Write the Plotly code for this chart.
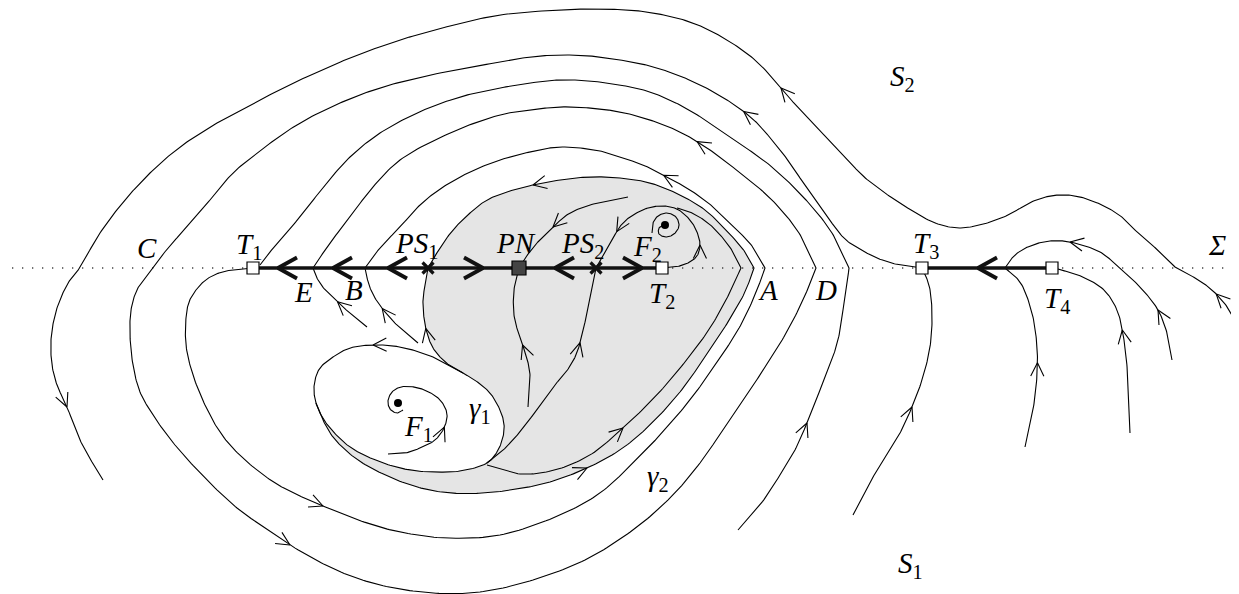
import numpy as np
import plotly.graph_objects as go

# ---------------- data (image pixel coordinates, y downward) ----------------
SIGMA_Y = 268

OUTER_X = [1239,1228,1212,1195,1176,1160,1140,1123,1106,1080,1058,1036,1006,980,958,935,906,885,863,845,822,800,781,755,722,690,647,600,560,500,450,400,350,300,260,217,180,150,125,100,80,70,62,55,51,52,57,67,80,92,103]
OUTER_Y = [327,308,290,278,268,252,235,218,207,197,195,200,216,225,228,223,207,193,176,157,133,110,88,60,37,22,12,9,10,15,26,40,58,80,100,123,147,173,200,233,268,280,295,315,340,365,385,407,440,462,480]

C_X = [922,900,882,865,846,826,806,790,772,756,739,710,680,650,620,590,560,530,500,440,383,340,300,265,233,210,187,168,153,143,136,131,130,133,140,155,175,205,237,262,290,336,380,433,480,533,585,633,670,700,734,760,785,803,816,799,772,739,710,680,650,620,590,560,530,500,450,400,372,350,330,313]
C_Y = [268,265,260,252,240,215,187,163,140,122,108,90,76,66,60,56,55,57,62,73,87,103,123,147,173,200,227,248,268,280,292,310,335,365,392,418,445,478,508,526,545,570,585,593,592,580,560,530,498,463,413,375,335,300,268,233,200,172,150,132,120,112,108,107,110,115,133,160,188,217,243,268]

T1C_X = [738,760,780,795,807,820,830,838,843,847,849,832,806,772,739,710,680,650,620,590,560,530,500,460,417,380,350,325,300,278,260]
T1C_Y = [530,505,475,450,423,390,365,340,310,285,268,233,200,167,143,123,105,92,85,81,80,83,88,97,113,133,157,185,217,242,265]

G2_X = [253,240,222,207,196,189,186,186,192,205,222,245,275,300,323,367,400,446,500,560,600,633,660,690,715,738,755,765,752,733,712,690,665,643,620,600,560,530,500,470,443,420,400,380,365]
G2_Y = [268,269,272,279,290,302,318,345,372,405,435,460,483,496,506,523,532,538,535,515,493,463,435,400,365,330,295,268,246,226,206,190,176,165,157,151,147,152,160,172,187,205,227,248,268]

GRAYTOP_X = [316,322,333,355,383,417,450,483,517,550,587,620,650,680,705,728,745,754,745,728,705,680,650,620,590,560,533,510,487,470,453,440,428]
GRAYTOP_Y = [403,418,437,458,474,487,493,493,489,482,468,450,425,392,357,322,292,268,252,232,210,195,183,178,177,180,185,191,200,213,230,248,268]

INNER_X = [487,520,555,590,623,655,685,710,727,741,733,722,708,692,677]
INNER_Y = [465,474,470,455,428,397,362,328,298,268,252,237,223,213,208]

F2LOOP_X = [662,675,688,697,700,697,690,677,663,648,633,622,613,605,596]
F2LOOP_Y = [268,267,263,256,245,232,220,209,206,208,215,224,238,252,268]

GAMMA1_X = [463,433,400,373,350,333,320,315,314,316,321,330,350,383,410,433,460,487,497,503,504,500,490,476,463]
GAMMA1_Y = [373,357,347,345,348,357,368,380,392,403,415,428,447,463,470,472,471,463,452,437,424,410,393,381,373]

PS1D_X = [463,452,443,433,427,424,423,425,428]
PS1D_Y = [373,367,360,348,333,318,300,285,268]
PS2D_X = [487,500,513,527,540,553,566,576,582,587,592,596]
PS2D_Y = [463,453,440,423,405,387,372,355,335,313,290,268]
PNT_X = [628,597,570,553,537,526,519]
PNT_Y = [197,203,213,227,243,257,268]
PND_X = [528,530,526,519,514,514,519]
PND_Y = [407,375,355,335,315,290,268]
ELOW_X = [367,353,340,327,318,313]
ELOW_Y = [327,316,304,292,280,268]
BLOW_X = [418,400,385,375,369,365]
BLOW_Y = [343,328,312,298,285,268]
F1S_X = [388,405,420,435,444,447,441,429,414,401,392,388,390,397,403]
F1S_Y = [454,453,448,440,428,414,401,392,387,387,392,401,409,413,410]
F2S_X = [652,653,658,667,676,679,674,666,659,659,664]
F2S_Y = [233,223,216,213,217,226,234,237,234,228,225]
T3T_X = [853,870,885,900,912,922,930,932,929,922]
T3T_Y = [515,482,458,433,407,380,347,313,285,268]
T4A_X = [1172,1167,1158,1141,1120,1100,1070,1050,1030,1015,1005]
T4A_Y = [360,333,310,288,268,252,242,241,246,255,268]
T4B_X = [1025,1033,1037,1037,1032,1020,1005]
T4B_Y = [447,410,375,347,313,282,268]
T4C_X = [1130,1128,1124,1117,1104,1083,1058]
T4C_Y = [433,380,340,310,290,277,269]

SLIDING_SEGMENTS = [(253, 662), (922, 1052)]
SLIDE_ARROW_X = [278, 333, 388, 483, 555, 642, 978]
SLIDE_ARROW_DIR = [-1, -1, -1, 1, -1, 1, -1]

TANGENCY_NAMES = ["T1", "T2", "T3", "T4"]
TANGENCY_X = [253, 662, 922, 1052]
PSEUDO_SADDLE_X = [428, 596]
PSEUDO_NODE_X = [519]
FOCUS_X = [398, 665]
FOCUS_Y = [403, 225]

LABEL_TEXT = ["<i>T</i><sub>1</sub>", "<i>C</i>", "<i>E</i>", "<i>B</i>", "<i>PS</i><sub>1</sub>",
              "<i>PN</i>", "<i>PS</i><sub>2</sub>", "<i>F</i><sub>2</sub>", "<i>T</i><sub>2</sub>",
              "<i>A</i>", "<i>D</i>", "<i>T</i><sub>3</sub>", "<i>T</i><sub>4</sub>", "<i>Σ</i>",
              "<i>S</i><sub>2</sub>", "<i>S</i><sub>1</sub>", "<i>F</i><sub>1</sub>",
              "<i>γ</i><sub>1</sub>", "<i>γ</i><sub>2</sub>"]
LABEL_X = [249, 147, 303, 354, 416, 516, 582, 647, 662, 768, 826, 926, 1057, 1217, 902, 910, 418, 480, 658]
LABEL_Y = [246, 248, 292, 290, 245, 243, 245, 248, 295, 290, 290, 245, 300, 245, 78, 565, 428, 410, 478]

# page offset of the plot div (browser default body margin)
PAGE_OFFSET = 8

# ---------------- geometry helpers ----------------
def cr_seg(p0, p1, p2, p3, n, alpha=0.5):
    def tj(ti, a, b):
        return ti + max(np.linalg.norm(b - a), 1e-6) ** alpha
    t0 = 0.0
    t1 = tj(t0, p0, p1)
    t2 = tj(t1, p1, p2)
    t3 = tj(t2, p2, p3)
    t = np.linspace(t1, t2, n, endpoint=False)[:, None]
    A1 = (t1 - t) / (t1 - t0) * p0 + (t - t0) / (t1 - t0) * p1
    A2 = (t2 - t) / (t2 - t1) * p1 + (t - t1) / (t2 - t1) * p2
    A3 = (t3 - t) / (t3 - t2) * p2 + (t - t2) / (t3 - t2) * p3
    B1 = (t2 - t) / (t2 - t0) * A1 + (t - t0) / (t2 - t0) * A2
    B2 = (t3 - t) / (t3 - t1) * A2 + (t - t1) / (t3 - t1) * A3
    return (t2 - t) / (t2 - t1) * B1 + (t - t1) / (t2 - t1) * B2


def smooth(xs, ys, kink_on_sigma=True, n=16):
    pts = np.column_stack([xs, ys]).astype(float)
    N = len(pts)
    corners = [0, N - 1]
    if kink_on_sigma:
        corners += [i for i in range(1, N - 1) if ys[i] == SIGMA_Y]
    corners = sorted(set(corners))
    out = []
    for a, b in zip(corners[:-1], corners[1:]):
        seg = pts[a:b + 1]
        if len(seg) == 2:
            P = np.vstack([2 * seg[0] - seg[1], seg, 2 * seg[1] - seg[0]])
        else:
            P = np.vstack([2 * seg[0] - seg[1], seg, 2 * seg[-1] - seg[-2]])
        for i in range(len(seg) - 1):
            out.append(cr_seg(P[i], P[i + 1], P[i + 2], P[i + 3], n))
    out.append(pts[-1:])
    d = np.vstack(out)
    return d[:, 0], d[:, 1]


def nearest(dx, dy, px, py):
    return int(np.argmin((dx - px) ** 2 + (dy - py) ** 2))


def arrow_head(dx, dy, px, py, L=15, ang=26):
    i = nearest(dx, dy, px, py)
    i0, i1 = max(i - 3, 0), min(i + 3, len(dx) - 1)
    v = np.array([dx[i1] - dx[i0], dy[i1] - dy[i0]])
    v = v / np.linalg.norm(v)
    tip = np.array([dx[i], dy[i]])
    ends = []
    for s in (1, -1):
        a = np.radians(ang) * s
        R = np.array([[np.cos(a), -np.sin(a)], [np.sin(a), np.cos(a)]])
        ends.append(tip + L * (R @ (-v)))
    return ([ends[0][0], tip[0], ends[1][0], None],
            [ends[0][1], tip[1], ends[1][1], None])

# ---------------- build curves ----------------
CURVES = {
    "outer": (OUTER_X, OUTER_Y, True),
    "c": (C_X, C_Y, True),
    "t1": (T1C_X, T1C_Y, True),
    "g2": (G2_X, G2_Y, True),
    "graytop": (GRAYTOP_X, GRAYTOP_Y, True),
    "inner": (INNER_X, INNER_Y, True),
    "f2loop": (F2LOOP_X, F2LOOP_Y, False),
    "gamma1": (GAMMA1_X, GAMMA1_Y, False),
    "ps1d": (PS1D_X, PS1D_Y, False),
    "ps2d": (PS2D_X, PS2D_Y, False),
    "pnt": (PNT_X, PNT_Y, False),
    "pnd": (PND_X, PND_Y, False),
    "elow": (ELOW_X, ELOW_Y, False),
    "blow": (BLOW_X, BLOW_Y, False),
    "f1s": (F1S_X, F1S_Y, False),
    "f2s": (F2S_X, F2S_Y, False),
    "t3t": (T3T_X, T3T_Y, False),
    "t4a": (T4A_X, T4A_Y, True),
    "t4b": (T4B_X, T4B_Y, False),
    "t4c": (T4C_X, T4C_Y, False),
}
D = {k: smooth(x, y, kk) for k, (x, y, kk) in CURVES.items()}

ARROWS = [
    ("outer", 1217, 293), ("outer", 781, 88), ("outer", 67, 407),
    ("c", 745, 110), ("c", 290, 547), ("c", 697, 140),
    ("t1", 807, 423),
    ("g2", 323, 505), ("g2", 664, 174),
    ("graytop", 587, 467), ("graytop", 533, 185),
    ("inner", 623, 428),
    ("f2loop", 700, 245), ("f2loop", 617, 232),
    ("pnt", 553, 227), ("pnd", 522, 345), ("ps2d", 581, 343), ("ps1d", 428, 328),
    ("gamma1", 373, 345), ("elow", 338, 302), ("blow", 382, 309),
    ("f1s", 447, 428), ("t3t", 912, 407),
    ("t4a", 1158, 310), ("t4a", 1070, 242), ("t4b", 1037, 362), ("t4c", 1123, 330),
]

# ---------------- gray region polygon ----------------
def piece(name, p_from, p_to):
    dx, dy = D[name]
    a = nearest(dx, dy, *p_from)
    b = nearest(dx, dy, *p_to)
    if a <= b:
        return list(dx[a:b + 1]), list(dy[a:b + 1])
    return list(dx[b:a + 1][::-1]), list(dy[b:a + 1][::-1])

gx, gy = D["gamma1"]
k_bot = nearest(gx, gy, 487, 463)
parts = [
    piece("graytop", (GRAYTOP_X[0], GRAYTOP_Y[0]), (GRAYTOP_X[-1], GRAYTOP_Y[-1])),
    piece("ps1d", (PS1D_X[-1], PS1D_Y[-1]), (PS1D_X[0], PS1D_Y[0])),
    (list(gx[len(gx) - 1:k_bot - 1:-1]), list(gy[len(gy) - 1:k_bot - 1:-1])),
    piece("inner", (INNER_X[0], INNER_Y[0]), (INNER_X[-1], INNER_Y[-1])),
    piece("f2loop", (677, 209), (596, 268)),
    piece("ps2d", (PS2D_X[-1], PS2D_Y[-1]), (PS2D_X[0], PS2D_Y[0])),
    piece("gamma1", (487, 463), (316, 403)),
]
PX, PY = [], []
for px, py in parts:
    PX += px
    PY += py

fig = go.Figure()
fig.add_trace(go.Scatter(x=PX, y=PY, mode="lines", fill="toself", fillcolor="#e5e5e5",
                         line=dict(width=0, color="rgba(0,0,0,0)"), hoverinfo="skip"))

# sigma dotted line
fig.add_trace(go.Scatter(x=[12, 1232], y=[SIGMA_Y, SIGMA_Y], mode="lines",
                         line=dict(color="#444", width=1.3, dash="1.3px,8.7px"), hoverinfo="skip"))

# thin trajectories
LX, LY = [], []
for k in CURVES:
    dx, dy = D[k]
    LX += list(dx) + [None]
    LY += list(dy) + [None]
fig.add_trace(go.Scatter(x=LX, y=LY, mode="lines", line=dict(color="black", width=1.1),
                         hoverinfo="skip"))

# small arrowheads
AX, AY = [], []
for name, px, py in ARROWS:
    dx, dy = D[name]
    ax, ay = arrow_head(dx, dy, px, py)
    AX += ax
    AY += ay
fig.add_trace(go.Scatter(x=AX, y=AY, mode="lines", line=dict(color="black", width=1.1),
                         hoverinfo="skip"))

# sliding segments
SX, SY = [], []
for a, b in SLIDING_SEGMENTS:
    SX += [a, b, None]
    SY += [SIGMA_Y, SIGMA_Y, None]
fig.add_trace(go.Scatter(x=SX, y=SY, mode="lines", line=dict(color="#111", width=3.6),
                         hoverinfo="skip"))

# sliding-flow chevrons
CX, CY = [], []
for x0, d in zip(SLIDE_ARROW_X, SLIDE_ARROW_DIR):
    CX += [x0 - d * 19, x0, x0 - d * 19, None]
    CY += [SIGMA_Y - 10.5, SIGMA_Y, SIGMA_Y + 10.5, None]
fig.add_trace(go.Scatter(x=CX, y=CY, mode="lines", line=dict(color="#111", width=3.8),
                         hoverinfo="skip"))

# special points
fig.add_trace(go.Scatter(x=PSEUDO_SADDLE_X, y=[SIGMA_Y] * len(PSEUDO_SADDLE_X), mode="markers",
                         marker=dict(symbol="x-thin", size=11, line=dict(width=3.2, color="#111")),
                         hoverinfo="skip"))
fig.add_trace(go.Scatter(x=TANGENCY_X, y=[SIGMA_Y] * len(TANGENCY_X), mode="markers",
                         marker=dict(symbol="square", size=12, color="white",
                                     line=dict(width=1.2, color="black")), hoverinfo="skip"))
fig.add_trace(go.Scatter(x=PSEUDO_NODE_X, y=[SIGMA_Y], mode="markers",
                         marker=dict(symbol="square", size=14, color="#444",
                                     line=dict(width=1.2, color="black")), hoverinfo="skip"))
fig.add_trace(go.Scatter(x=FOCUS_X, y=FOCUS_Y, mode="markers",
                         marker=dict(symbol="circle", size=8, color="black"), hoverinfo="skip"))

for t, x, y in zip(LABEL_TEXT, LABEL_X, LABEL_Y):
    fig.add_annotation(x=x, y=y, text=t, showarrow=False, xanchor="center", yanchor="middle",
                       font=dict(family="Liberation Serif, Times New Roman, serif", size=29,
                                 color="black"))

fig.update_layout(
    width=1239, height=594, margin=dict(l=0, r=0, t=0, b=0),
    paper_bgcolor="white", plot_bgcolor="white", showlegend=False,
    xaxis=dict(range=[PAGE_OFFSET, 1239 + PAGE_OFFSET], visible=False, fixedrange=True),
    yaxis=dict(range=[594 + PAGE_OFFSET, PAGE_OFFSET], visible=False, fixedrange=True),
)
fig.write_html("out.html")
